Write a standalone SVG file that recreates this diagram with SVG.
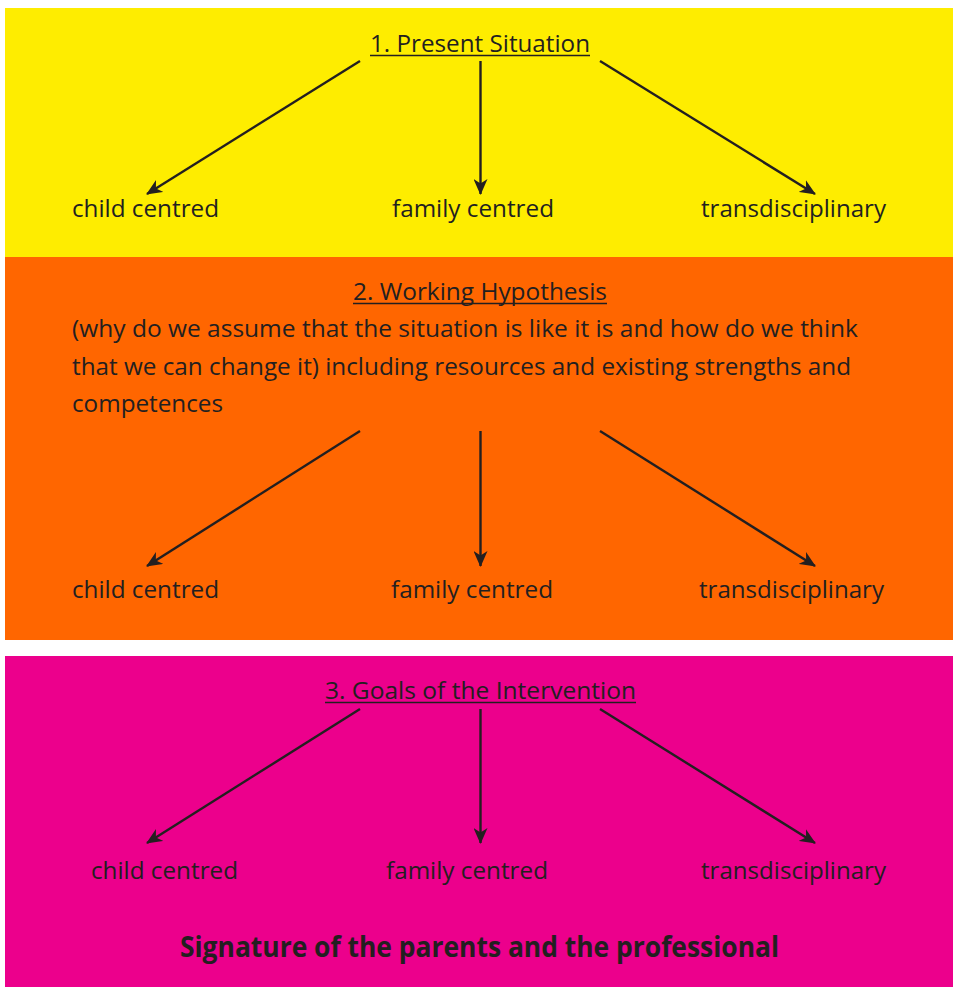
<svg xmlns="http://www.w3.org/2000/svg" width="953" height="987" viewBox="0 0 953 987">
<style>
text{font-family:"Open Sans","Noto Sans","Liberation Sans",sans-serif;fill:#231f20;font-size:24.5px}
.h{text-anchor:middle}
.b{font-weight:bold;font-size:28px}
.ul{stroke:#231f20;stroke-width:1.6}
.c{stroke:#231f20;stroke-width:2.4;fill:none;marker-end:url(#ah)}
</style>
<defs>
<marker id="ah" markerWidth="16" markerHeight="14" refX="15" refY="7" orient="auto" markerUnits="userSpaceOnUse">
<path d="M0,0 L16,7 L0,14 L4.5,7 z" fill="#231f20"/>
</marker>
</defs>
<rect width="953" height="987" fill="#ffffff"/>
<g id="section1">
<rect x="5" y="8" width="948" height="249" fill="#feed00"/>
</g>
<g id="section2">
<rect x="5" y="257" width="948" height="383" fill="#ff6600"/>
</g>
<g id="section3">
<rect x="5" y="656" width="948" height="331" fill="#ec008c"/>
</g>
<g id="heading1"><text class="h" x="480" y="52" textLength="220" lengthAdjust="spacingAndGlyphs">1. Present Situation</text><line class="ul" x1="370" y1="55.5" x2="590" y2="55.5"/></g>
<g id="s1-child"><text x="72" y="217" textLength="147" lengthAdjust="spacingAndGlyphs">child centred</text></g>
<g id="s1-family"><text x="392" y="217" textLength="162" lengthAdjust="spacingAndGlyphs">family centred</text></g>
<g id="s1-trans"><text x="701" y="217" textLength="185" lengthAdjust="spacingAndGlyphs">transdisciplinary</text></g>
<g id="heading2"><text class="h" x="480" y="300" textLength="254" lengthAdjust="spacingAndGlyphs">2. Working Hypothesis</text><line class="ul" x1="353" y1="303.5" x2="607" y2="303.5"/>
<text x="72" y="337" textLength="786" lengthAdjust="spacingAndGlyphs">(why do we assume that the situation is like it is and how do we think</text>
<text x="72" y="375" textLength="779" lengthAdjust="spacingAndGlyphs">that we can change it) including resources and existing strengths and</text>
<text x="72" y="412" textLength="151" lengthAdjust="spacingAndGlyphs">competences</text></g>
<g id="s2-child"><text x="72" y="598" textLength="147" lengthAdjust="spacingAndGlyphs">child centred</text></g>
<g id="s2-family"><text x="391" y="598" textLength="162" lengthAdjust="spacingAndGlyphs">family centred</text></g>
<g id="s2-trans"><text x="699" y="598" textLength="185" lengthAdjust="spacingAndGlyphs">transdisciplinary</text></g>
<g id="heading3"><text class="h" x="480.5" y="699" textLength="311" lengthAdjust="spacingAndGlyphs">3. Goals of the Intervention</text><line class="ul" x1="325" y1="702.5" x2="636" y2="702.5"/></g>
<g id="s3-child"><text x="91" y="879" textLength="147" lengthAdjust="spacingAndGlyphs">child centred</text></g>
<g id="s3-family"><text x="386" y="879" textLength="162" lengthAdjust="spacingAndGlyphs">family centred</text></g>
<g id="s3-trans"><text x="701" y="879" textLength="185" lengthAdjust="spacingAndGlyphs">transdisciplinary</text></g>
<g id="signature"><text class="b" x="180" y="957" textLength="599" lengthAdjust="spacingAndGlyphs">Signature of the parents and the professional</text></g>
<g id="connectors">
<line class="c" x1="360" y1="61" x2="147" y2="194"/>
<line class="c" x1="480.5" y1="61" x2="480.5" y2="194"/>
<line class="c" x1="600" y1="61" x2="815" y2="194"/>
<line class="c" x1="360" y1="431" x2="147" y2="566"/>
<line class="c" x1="480.5" y1="431" x2="480.5" y2="566"/>
<line class="c" x1="600" y1="431" x2="815" y2="566"/>
<line class="c" x1="360" y1="709" x2="147" y2="843"/>
<line class="c" x1="480.5" y1="709" x2="480.5" y2="843"/>
<line class="c" x1="600" y1="709" x2="815" y2="843"/>
</g>
</svg>
